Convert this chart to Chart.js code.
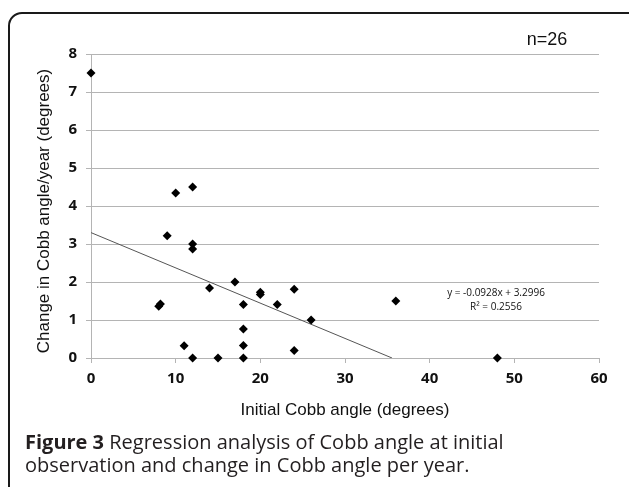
<!DOCTYPE html>
<html>
<head>
<meta charset="utf-8">
<script src="https://cdn.jsdelivr.net/npm/chart.js@4"></script>
<style>
  html, body { margin: 0; padding: 0; background: #fff; }
  body { width: 629px; height: 487px; position: relative; overflow: hidden; }
  #frame {
    position: absolute; left: 8px; top: 12px; width: 660px; height: 520px;
    border: 2px solid #1a1a1a; border-radius: 14px; box-sizing: border-box;
  }
  #chart { position: absolute; left: 0; top: 0; }
  #caption {
    position: absolute; left: 25px; top: 430px; width: 600px;
    font-family: "Open Sans", sans-serif; font-size: 20px; line-height: 23px; color: #231f20;
  }
  #caption b { font-weight: bold; }
</style>
</head>
<body>
<div id="frame"></div>
<canvas id="chart" width="629" height="430"></canvas>
<div id="caption"><b>Figure 3</b> Regression analysis of Cobb angle at initial<br>observation and change in Cobb angle per year.</div>
<script>
// initial Cobb angle (degrees)
const initialAngle = [0, 8, 8.2, 9, 10, 11, 12, 12, 12, 12, 14, 15, 17, 18, 18, 18, 18, 20, 20, 22, 24, 24, 26, 36, 48];
// change in Cobb angle per year (degrees)
const changePerYear = [7.5, 1.36, 1.42, 3.22, 4.34, 0.32, 4.5, 3.0, 2.87, 0, 1.84, 0, 2.0, 1.41, 0.76, 0.33, 0, 1.67, 1.73, 1.41, 1.81, 0.2, 1.0, 1.5, 0];

// regression line from the figure
const slope = -0.0928;
const intercept = 3.2996;
const equationText = ['y = -0.0928x + 3.2996', 'R\u00b2 = 0.2556'];
const sampleText = 'n=26';
const xTitle = 'Initial Cobb angle (degrees)';
const yTitle = 'Change in Cobb angle/year (degrees)';

const points = initialAngle.map((x, i) => ({ x: x, y: changePerYear[i] }));
const trendLine = [
    { x: 0, y: intercept },
    { x: -intercept / slope, y: 0 }
];

const gridGray = '#b4b4b4';

// axis titles and notes drawn on the canvas
const textPlugin = {
    id: 'texts',
    afterDraw(chart) {
        const ctx = chart.ctx;
        const area = chart.chartArea;
        ctx.save();
        ctx.fillStyle = '#111';
        ctx.textAlign = 'center';
        ctx.textBaseline = 'alphabetic';

        ctx.font = '17px "Liberation Sans", Arial, sans-serif';
        ctx.fillText(xTitle, (area.left + area.right) / 2, 415);

        ctx.save();
        ctx.translate(49, 211);
        ctx.rotate(-Math.PI / 2);
        ctx.fillText(yTitle, 0, 0);
        ctx.restore();

        ctx.font = '18px "Liberation Sans", Arial, sans-serif';
        ctx.fillText(sampleText, 547, 45);

        ctx.font = '10px "Open Sans", sans-serif';
        ctx.fillText(equationText[0], 496, 296);
        ctx.fillText(equationText[1], 496, 310);
        ctx.restore();
    }
};

const ctx = document.getElementById('chart').getContext('2d');
new Chart(ctx, {
    type: 'scatter',
    data: {
        datasets: [{
            label: 'Change per year',
            data: points,
            pointStyle: 'rectRot',
            pointRadius: 4.5,
            backgroundColor: '#000',
            borderColor: '#000',
            borderWidth: 0,
            clip: false,
            order: 1
        }, {
            label: 'Linear fit',
            data: trendLine,
            showLine: true,
            pointRadius: 0,
            borderColor: '#555',
            borderWidth: 1,
            order: 2
        }]
    },
    options: {
        responsive: false,
        animation: false,
        layout: {
            padding: { left: 0, top: 54, right: 30, bottom: 0 }
        },
        plugins: {
            legend: { display: false },
            tooltip: { enabled: false }
        },
        scales: {
            x: {
                min: 0,
                max: 60,
                afterFit: function(scale) { scale.height = 72; },
                ticks: {
                    stepSize: 10,
                    padding: 7,
                    color: '#111',
                    font: { family: '"Open Sans", sans-serif', size: 15, weight: 'bold' }
                },
                grid: {
                    drawOnChartArea: false,
                    drawTicks: true,
                    tickLength: 5,
                    color: gridGray
                },
                border: { display: true, color: gridGray }
            },
            y: {
                min: 0,
                max: 8,
                afterFit: function(scale) { scale.width = 91; },
                ticks: {
                    stepSize: 1,
                    padding: 9,
                    color: '#111',
                    font: { family: '"Open Sans", sans-serif', size: 15, weight: 'bold' }
                },
                grid: {
                    drawTicks: true,
                    tickLength: 5,
                    color: gridGray
                },
                border: { display: true, color: gridGray }
            }
        }
    },
    plugins: [textPlugin]
});
</script>
</body>
</html>
